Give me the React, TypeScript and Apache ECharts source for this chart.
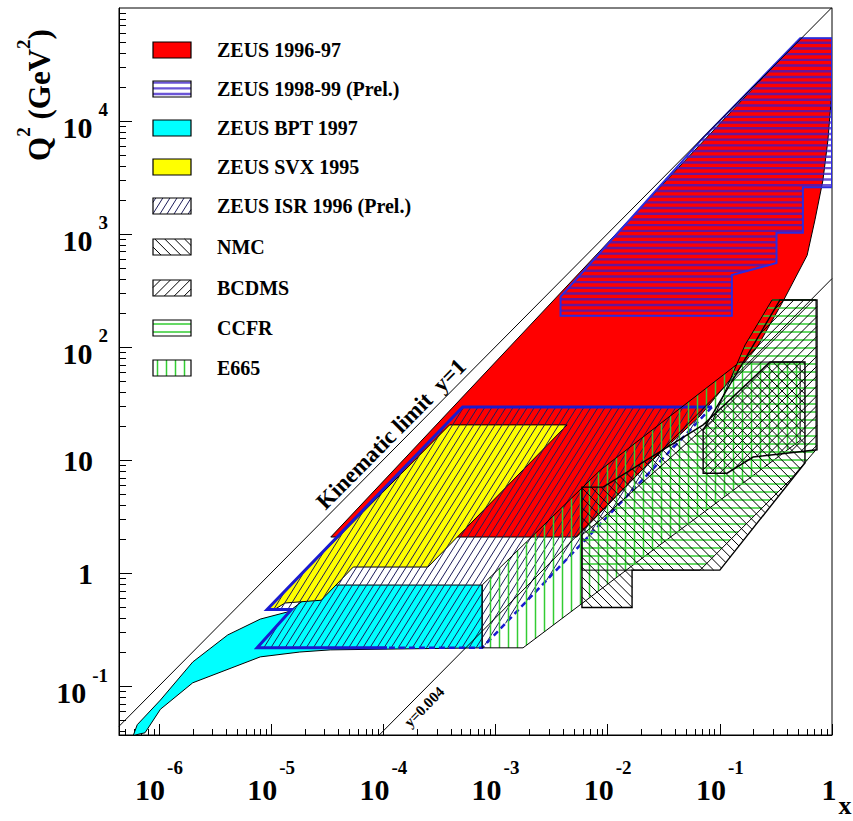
import React, { useEffect, useRef } from "react";
import * as echarts from "echarts";

const FONT = "'Liberation Serif', 'Times New Roman', serif";

// ---------------- axis ranges & ticks ----------------
const xRange = [4.4e-7, 1];
const q2Range = [0.0373, 1e5];

const xTickValues = [1e-6, 1e-5, 1e-4, 1e-3, 1e-2, 1e-1, 1];
const xTickLabels: [string, string][] = [["10", "-6"], ["10", "-5"], ["10", "-4"], ["10", "-3"], ["10", "-2"], ["10", "-1"], ["1", ""]];
const yTickValues = [0.1, 1, 10, 100, 1000, 10000];
const yTickLabels: [string, string][] = [["10", "-1"], ["1", ""], ["10", ""], ["10", "2"], ["10", "3"], ["10", "4"]];
const minorMantissas = [2, 3, 4, 5, 6, 7, 8, 9];

// ---------------- kinematic lines (x, Q2) ----------------
const kinematicLimitY1 = [[4.4e-7, 0.04453], [1, 101200]];
const kinematicY0004 = [[9.2e-5, 0.0373], [1, 404.8]];

// ---------------- regions (x, Q2 GeV^2) ----------------
const zeus9697 = [[3.4e-5, 2.1], [0.52, 5.4e4], [1, 5.4e4], [1, 1.9e4], [0.92, 6800], [0.83, 3000], [0.705, 1340], [0.6, 650], [0.37, 260], [0.215, 100], [0.116, 48], [0.0666, 24.7], [0.0194, 7.9], [0.0053, 2.1]];
const zeus9899 = [[0.0038, 190], [0.0038, 280], [0.071, 7100], [0.52, 5.4e4], [1, 5.4e4], [1, 2600], [0.55, 2600], [0.55, 1030], [0.32, 1030], [0.32, 556], [0.128, 435], [0.128, 190]];
const zeusBpt97 = [[5.9e-7, 0.037], [6.4e-7, 0.046], [1.03e-6, 0.076], [2.0e-6, 0.165], [4.1e-6, 0.286], [8.0e-6, 0.395], [1.39e-5, 0.456], [1.54e-5, 0.485], [2.23e-5, 0.645], [3.36e-5, 0.79], [7.6e-4, 0.79], [7.6e-4, 0.22], [3.36e-5, 0.211], [1.8e-5, 0.202], [8.0e-6, 0.183], [2.0e-6, 0.108], [1.03e-6, 0.063], [7.5e-7, 0.039]];
const zeusSvx95 = [[9.2e-6, 0.485], [3.9e-4, 20.6], [4.35e-3, 20.6], [2.5e-4, 1.14], [5.4e-5, 1.14], [2.8e-5, 0.58], [1.33e-5, 0.548], [1.09e-5, 0.485]];
const zeusIsr96 = [[1.08e-4, 0.22], [7.5e-6, 0.22], [1.52e-5, 0.48], [9.2e-6, 0.48], [5.1e-4, 29.6], [0.085, 29.6], [7.6e-4, 0.22]];
const e665 = [[7.6e-4, 0.22], [1.76e-3, 0.22], [0.0194, 1.32], [0.52, 15], [0.52, 74], [0.151, 74], [0.0086, 8.2], [7.6e-4, 0.79]];
const ccfr = [[0.0059, 1.07], [0.0666, 1.07], [0.422, 6.7], [0.72, 12.4], [0.72, 262], [0.292, 262], [0.168, 105], [0.0869, 22.8], [0.0086, 2.97], [0.0059, 2.19]];
const nmc = [[0.0059, 0.5], [0.0165, 0.5], [0.0165, 1.07], [0.1, 1.07], [0.574, 9.5], [0.574, 74], [0.28, 74], [0.071, 20.6], [0.0091, 5.8], [0.0059, 5.8]];
const bcdms = [[0.071, 7.7], [0.116, 7.7], [0.198, 10.7], [0.735, 12.4], [0.735, 262], [0.344, 262], [0.071, 18.6]];

const legendLabels = ["ZEUS 1996-97", "ZEUS 1998-99 (Prel.)", "ZEUS BPT 1997", "ZEUS SVX 1995", "ZEUS ISR 1996 (Prel.)", "NMC", "BCDMS", "CCFR", "E665"];

const lineLabelTexts = ["Kinematic limit  y=1", "y=0.004"];
const lineLabelAnchors = [[1.41e-4, 14.3], [1.94e-4, 0.0786]];

// ---------------- styles ----------------
type Hatch = { angle: number; spacing: number; color: string; width: number; opacity?: number };
type RStyle = { fill?: string; hatch?: Hatch; stroke?: string; lineWidth?: number };

const S_RED: RStyle = { fill: "#ff0000", stroke: "#000", lineWidth: 1 };
const S_9899: RStyle = { hatch: { angle: 0, spacing: 5.7, color: "#3a1cc8", width: 2.4, opacity: 0.75 }, stroke: "#2b2be0", lineWidth: 2 };
const S_BPT: RStyle = { fill: "#00ffff", stroke: "#000", lineWidth: 1 };
const S_SVX: RStyle = { fill: "#ffff00", stroke: "#000", lineWidth: 1 };
const S_ISR: RStyle = { hatch: { angle: 58, spacing: 6, color: "#1c1c5a", width: 1 } };
const S_NMC: RStyle = { hatch: { angle: 135, spacing: 7, color: "#000", width: 1 }, stroke: "#000", lineWidth: 1.4 };
const S_BCDMS: RStyle = { hatch: { angle: 45, spacing: 7, color: "#000", width: 1 }, stroke: "#000", lineWidth: 1.4 };
const S_CCFR: RStyle = { hatch: { angle: 0, spacing: 8, color: "#33cc33", width: 1.6 }, stroke: "#000", lineWidth: 1 };
const S_E665: RStyle = { hatch: { angle: 90, spacing: 9, color: "#33cc33", width: 1.5 }, stroke: "#000", lineWidth: 1 };

const legendStyles: RStyle[] = [S_RED, S_9899, S_BPT, S_SVX, S_ISR, S_NMC, S_BCDMS, S_CCFR, S_E665];

// ---------------- helpers ----------------
function hatchSegments(pts: number[][], angleDeg: number, spacing: number, phase = 0.5): number[][] {
  const a = (angleDeg * Math.PI) / 180;
  const ux = Math.cos(a), uy = -Math.sin(a);
  const vx = Math.sin(a), vy = Math.cos(a);
  const ts = pts.map((p) => p[0] * vx + p[1] * vy);
  const tmin = Math.min(...ts), tmax = Math.max(...ts);
  const segs: number[][] = [];
  for (let k = Math.ceil(tmin / spacing - phase); (k + phase) * spacing <= tmax; k++) {
    const t = (k + phase) * spacing;
    const ss: number[] = [];
    for (let i = 0; i < pts.length; i++) {
      const j = (i + 1) % pts.length;
      const ta = ts[i], tb = ts[j];
      if ((ta <= t && tb > t) || (tb <= t && ta > t)) {
        const f = (t - ta) / (tb - ta);
        const px = pts[i][0] + f * (pts[j][0] - pts[i][0]);
        const py = pts[i][1] + f * (pts[j][1] - pts[i][1]);
        ss.push(px * ux + py * uy);
      }
    }
    ss.sort((m, n) => m - n);
    for (let q = 0; q + 1 < ss.length; q += 2) {
      const s1 = ss[q], s2 = ss[q + 1];
      segs.push([t * vx + s1 * ux, t * vy + s1 * uy, t * vx + s2 * ux, t * vy + s2 * uy]);
    }
  }
  return segs;
}

function styledElements(px: number[][], st: RStyle): any[] {
  const ch: any[] = [];
  if (st.fill) ch.push({ type: "polygon", shape: { points: px }, style: { fill: st.fill, stroke: "none" } });
  if (st.hatch) {
    const h = st.hatch;
    for (const s of hatchSegments(px, h.angle, h.spacing)) {
      ch.push({ type: "line", shape: { x1: s[0], y1: s[1], x2: s[2], y2: s[3] }, style: { stroke: h.color, lineWidth: h.width, opacity: h.opacity ?? 1 } });
    }
  }
  return ch;
}

const lg = (v: number) => Math.log10(v);

function regionSeries(name: string, pts: number[][], st: RStyle, outline?: { solid: number[]; dashed: number[]; color: string }) {
  const logPts = pts.map(([x, q]) => [lg(x), lg(q)]);
  return {
    type: "custom",
    name,
    coordinateSystem: "cartesian2d",
    clip: true,
    silent: true,
    data: [logPts[0]],
    renderItem: (_params: any, api: any) => {
      const px = logPts.map((p) => api.coord(p));
      const ch = styledElements(px, st);
      if (st.stroke) ch.push({ type: "polygon", shape: { points: px }, style: { fill: "none", stroke: st.stroke, lineWidth: st.lineWidth ?? 1 } });
      if (outline) {
        ch.push({ type: "polyline", shape: { points: outline.solid.map((i) => px[i]) }, style: { fill: "none", stroke: outline.color, lineWidth: 3 } });
        ch.push({ type: "polyline", shape: { points: outline.dashed.map((i) => px[i]) }, style: { fill: "none", stroke: outline.color, lineWidth: 2.5, lineDash: [6, 4] } });
      }
      return { type: "group", children: ch };
    },
  };
}

function minorTicks(lo: number, hi: number): number[] {
  const out: number[] = [];
  for (let e = Math.floor(lg(lo)) - 1; e <= Math.ceil(lg(hi)); e++) {
    for (const m of minorMantissas) {
      const v = m * Math.pow(10, e);
      if (v >= lo && v <= hi) out.push(lg(v));
    }
  }
  return out;
}

function buildOption() {
  const xMin = lg(xRange[0]), xMax = lg(xRange[1]);
  const yMin = lg(q2Range[0]), yMax = lg(q2Range[1]);
  const xMajor = xTickValues.map(lg);
  const yMajor = yTickValues.map(lg);

  const xFmt = (v: number) => {
    const i = xMajor.findIndex((m) => Math.abs(m - v) < 1e-6);
    if (i < 0) return "";
    const [b, e] = xTickLabels[i];
    return e ? `{b|${b}}{e|${e}}` : `{o|${b}}`;
  };
  const yFmt = (v: number) => {
    const i = yMajor.findIndex((m) => Math.abs(m - v) < 1e-6);
    if (i < 0) return "";
    const [b, e] = yTickLabels[i];
    return e ? `{b|${b}}{e|${e}}` : `{c|${b}}{sp| }`;
  };

  const baseTxt = { fontFamily: FONT, fontWeight: "bold", color: "#000" };

  // legend graphics
  const graphics: any[] = [];
  const LX = 153, LW = 38, LH = 16, TX = 217;
  const legendY = [50, 89, 128, 167, 206, 247, 288, 328, 368];
  legendLabels.forEach((lab, i) => {
    const cy = legendY[i];
    const y0 = cy - LH / 2;
    const rect = [[LX, y0], [LX + LW, y0], [LX + LW, y0 + LH], [LX, y0 + LH]];
    const st = legendStyles[i];
    for (const el of styledElements(rect, st)) graphics.push(el);
    graphics.push({ type: "rect", shape: { x: LX, y: y0, width: LW, height: LH }, style: { fill: "none", stroke: "#000", lineWidth: 1.2 } });
    graphics.push({ type: "text", x: TX, y: cy, style: { text: lab, fill: "#000", fontFamily: FONT, fontWeight: "bold", fontSize: 20, verticalAlign: "middle", align: "left" } });
  });
  graphics.push({
    type: "text", x: 34, y: 95, rotation: Math.PI / 2,
    style: {
      text: "{b|Q}{s|2}{b| (GeV}{s|2}{b|)}", align: "center", verticalAlign: "middle", fill: "#000",
      rich: {
        b: { fontFamily: FONT, fontWeight: "bold", fontSize: 31, padding: [10, 0, 0, 0], verticalAlign: "bottom" },
        s: { fontFamily: FONT, fontWeight: "bold", fontSize: 19, verticalAlign: "top" },
      },
    },
  });
  graphics.push({ type: "text", x: 845, y: 818, style: { text: "x", align: "center", verticalAlign: "bottom", fill: "#000", fontFamily: FONT, fontWeight: "bold", fontSize: 26 } });

  const labelSeries = {
    type: "custom",
    coordinateSystem: "cartesian2d",
    clip: false,
    silent: true,
    data: lineLabelAnchors.map(([x, q]) => [lg(x), lg(q)]),
    renderItem: (params: any, api: any) => {
      const i = params.dataIndex;
      const a = [api.value(0), api.value(1)];
      const p = api.coord(a);
      const p2 = api.coord([a[0] + 1, a[1] + 1]);
      const rot = Math.atan2(-(p2[1] - p[1]), p2[0] - p[0]);
      const isKin = i === 0;
      return {
        type: "text", x: p[0], y: p[1], rotation: rot,
        style: {
          text: lineLabelTexts[i], x: 0, y: isKin ? -1 : 12,
          align: "center", verticalAlign: isKin ? "bottom" : "middle",
          fill: "#000", fontFamily: FONT, fontWeight: "bold", fontSize: isKin ? 23 : 15,
        },
      };
    },
  };

  const lineSeries = (data: number[][]) => ({
    type: "line",
    data: data.map(([x, q]) => [lg(x), lg(q)]),
    showSymbol: false,
    clip: true,
    silent: true,
    lineStyle: { color: "#000", width: 1 },
  });

  const axisLineOn = { show: true, onZero: false, lineStyle: { color: "#000", width: 1 } };
  const axisLineOff = { show: false, onZero: false };

  return {
    animation: false,
    backgroundColor: "#fff",
    grid: { left: 119, right: 21, top: 8, bottom: 86, show: true, borderColor: "#000", borderWidth: 1, containLabel: false, outerBoundsMode: "none" },
    xAxis: [
      {
        type: "value", min: xMin, max: xMax, position: "bottom",
        axisLine: axisLineOn,
        splitLine: { show: false },
        axisTick: { show: true, inside: true, length: 11, customValues: xMajor, lineStyle: { color: "#000", width: 1 } },
        axisLabel: {
          customValues: xMajor, margin: 23, formatter: xFmt,
          rich: {
            b: { ...baseTxt, fontSize: 30, padding: [16, 0, 0, 0], verticalAlign: "bottom" },
            o: { ...baseTxt, fontSize: 30, padding: [16, 6, 0, 0], verticalAlign: "bottom" },
            e: { ...baseTxt, fontSize: 19, padding: [0, 0, 0, 2], verticalAlign: "top" },
          },
        },
      },
      {
        type: "value", min: xMin, max: xMax, position: "bottom",
        axisLine: axisLineOff, splitLine: { show: false }, axisLabel: { show: false },
        axisTick: { show: true, inside: true, length: 6, customValues: minorTicks(xRange[0], xRange[1]), lineStyle: { color: "#000", width: 1 } },
      },
    ],
    yAxis: [
      {
        type: "value", min: yMin, max: yMax, position: "left",
        axisLine: axisLineOn,
        splitLine: { show: false },
        axisTick: { show: true, inside: true, length: 13, customValues: yMajor, lineStyle: { color: "#000", width: 1 } },
        axisLabel: {
          customValues: yMajor, margin: 11, formatter: yFmt,
          rich: {
            b: { ...baseTxt, fontSize: 30, padding: [12, 0, 0, 0], verticalAlign: "bottom" },
            e: { ...baseTxt, fontSize: 19, padding: [0, 0, 0, 6], verticalAlign: "top" },
            c: { ...baseTxt, fontSize: 30 },
            sp: { ...baseTxt, fontSize: 19, width: 15 },
          },
        },
      },
      {
        type: "value", min: yMin, max: yMax, position: "left",
        axisLine: axisLineOff, splitLine: { show: false }, axisLabel: { show: false },
        axisTick: { show: true, inside: true, length: 7, customValues: minorTicks(q2Range[0], q2Range[1]), lineStyle: { color: "#000", width: 1 } },
      },
    ],
    graphic: { elements: graphics },
    series: [
      regionSeries("ZEUS 1996-97", zeus9697, S_RED),
      regionSeries("ZEUS 1998-99 (Prel.)", zeus9899, S_9899),
      regionSeries("ZEUS BPT 1997", zeusBpt97, S_BPT),
      regionSeries("ZEUS SVX 1995", zeusSvx95, S_SVX),
      regionSeries("ZEUS ISR 1996 (Prel.)", zeusIsr96, S_ISR, { solid: [0, 1, 2, 3, 4, 5], dashed: [5, 6, 0], color: "#1a1ad0" }),
      regionSeries("E665", e665, S_E665),
      regionSeries("CCFR", ccfr, S_CCFR),
      regionSeries("NMC", nmc, S_NMC),
      regionSeries("BCDMS", bcdms, S_BCDMS),
      lineSeries(kinematicLimitY1),
      lineSeries(kinematicY0004),
      labelSeries,
    ],
  };
}

export default function App() {
  const ref = useRef<HTMLDivElement>(null);
  useEffect(() => {
    document.body.style.margin = "0";
    const chart = echarts.init(ref.current!, null, { renderer: "svg" });
    chart.setOption(buildOption() as any);
    return () => chart.dispose();
  }, []);
  return <div ref={ref} style={{ position: "absolute", left: 0, top: 0, width: 853, height: 821, background: "#fff" }} />;
}
